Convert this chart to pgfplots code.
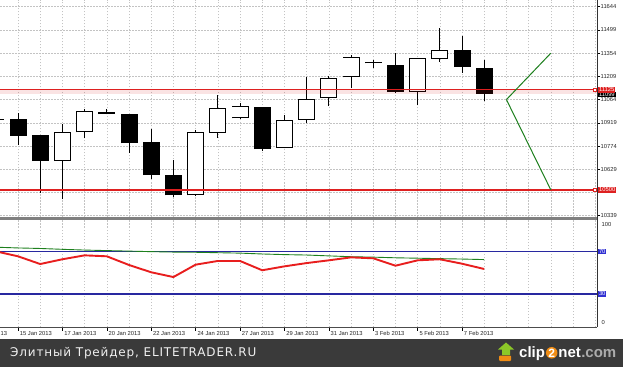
\documentclass[border=0pt]{standalone}
\usepackage{pgfplots}
\pgfplotsset{compat=1.18}
\usepackage{fontspec}
\setmainfont{Liberation Sans}
\newfontfamily\dv{DejaVu Sans}[LetterSpace=7]
\definecolor{mtred}{RGB}{222,32,32}
\definecolor{mtgreen}{RGB}{30,128,30}
\definecolor{mtblue}{RGB}{40,40,160}
\definecolor{boxblue}{RGB}{48,48,210}
\definecolor{band}{RGB}{58,58,58}
\definecolor{gridc}{RGB}{195,195,195}
\definecolor{rsired}{RGB}{232,30,30}
\definecolor{logoorange}{RGB}{240,140,20}
\definecolor{logogreen}{RGB}{140,200,40}
\pgfplotsset{
  wick/.style={black, line width=0.9pt},
  bear/.style={black, line width=17pt},
  bullout/.style={black, line width=17pt},
  bullin/.style={white, line width=15.2pt, shorten <=0.9pt, shorten >=0.9pt},
}
\newcommand{\tickfont}{\fontsize{5.8}{6}\selectfont}
\begin{document}
\begin{tikzpicture}[x=1pt,y=1pt]
\fill[white] (0,0) rectangle (623,367);
\fill[band] (0,0) rectangle (623,28);

% ---------------- price panel ----------------
\begin{axis}[at={(0pt,150.5pt)}, anchor=south west, width=597pt, height=216.5pt, scale only axis,
  xmin=0.189, xmax=27.08, ymin=10334, ymax=11686,
  scaled y ticks=false, scaled x ticks=false,
  axis line style={draw=none},
  xtick={0,...,27}, xticklabels={}, xtick style={draw=none},
  ytick={10339,10484,10629,10774,10919,11064,11209,11354,11499,11644},
  yticklabels={10339,{},10629,10774,10919,11064,11209,11354,11499,11644},
  ytick pos=right, yticklabel pos=right, tick align=outside, major tick length=3pt,
  ytick style={black, line width=0.6pt},
  yticklabel style={font=\tickfont, text=black!85, inner sep=0.5pt},
  grid=major, major grid style={gridc, dash pattern=on 1.5pt off 1.5pt, line width=0.6pt},
  clip=true]
% candle 0 (mostly cut off)
\addplot[bear] coordinates {(0,10934) (0,10940)};
% candle 1
\addplot[wick] coordinates {(1,10780) (1,10978)};
\addplot[bear] coordinates {(1,10839) (1,10941)};
% 2
\addplot[wick] coordinates {(2,10483) (2,10841)};
\addplot[bear] coordinates {(2,10680) (2,10841)};
% 3
\addplot[wick] coordinates {(3,10441) (3,10913)};
\addplot[bullout] coordinates {(3,10680) (3,10863)};
\addplot[bullin] coordinates {(3,10680) (3,10863)};
% 4
\addplot[wick] coordinates {(4,10822) (4,11005)};
\addplot[bullout] coordinates {(4,10860) (4,10991)};
\addplot[bullin] coordinates {(4,10860) (4,10991)};
% 5
\addplot[wick] coordinates {(5,10972) (5,11007)};
\addplot[bear] coordinates {(5,10973) (5,10984)};
% 6
\addplot[wick] coordinates {(6,10732) (6,10976)};
\addplot[bear] coordinates {(6,10791) (6,10974)};
% 7
\addplot[wick] coordinates {(7,10570) (7,10880)};
\addplot[bear] coordinates {(7,10593) (7,10797)};
% 8
\addplot[wick] coordinates {(8,10454) (8,10685)};
\addplot[bear] coordinates {(8,10466) (8,10595)};
% 9
\addplot[wick] coordinates {(9,10462) (9,10874)};
\addplot[bullout] coordinates {(9,10466) (9,10863)};
\addplot[bullin] coordinates {(9,10466) (9,10863)};
% 10
\addplot[wick] coordinates {(10,10826) (10,11093)};
\addplot[bullout] coordinates {(10,10857) (10,11011)};
\addplot[bullin] coordinates {(10,10857) (10,11011)};
% 11
\addplot[wick] coordinates {(11,10945) (11,11045)};
\addplot[bullout] coordinates {(11,10947) (11,11022)};
\addplot[bullin] coordinates {(11,10947) (11,11022)};
% 12
\addplot[wick] coordinates {(12,10745) (12,11018)};
\addplot[bear] coordinates {(12,10755) (12,11016)};
% 13
\addplot[wick] coordinates {(13,10760) (13,10966)};
\addplot[bullout] coordinates {(13,10762) (13,10937)};
\addplot[bullin] coordinates {(13,10762) (13,10937)};
% 14
\addplot[wick] coordinates {(14,10916) (14,11203)};
\addplot[bullout] coordinates {(14,10937) (14,11066)};
\addplot[bullin] coordinates {(14,10937) (14,11066)};
% 15
\addplot[wick] coordinates {(15,11024) (15,11211)};
\addplot[bullout] coordinates {(15,11072) (15,11201)};
\addplot[bullin] coordinates {(15,11072) (15,11201)};
% 16
\addplot[wick] coordinates {(16,11134) (16,11342)};
\addplot[bullout] coordinates {(16,11203) (16,11328)};
\addplot[bullin] coordinates {(16,11203) (16,11328)};
% 17
\addplot[wick] coordinates {(17,11263) (17,11311)};
\addplot[bear] coordinates {(17,11291) (17,11297)};
% 18
\addplot[wick] coordinates {(18,11105) (18,11353)};
\addplot[bear] coordinates {(18,11110) (18,11280)};
% 19
\addplot[wick] coordinates {(19,11028) (19,11326)};
\addplot[bullout] coordinates {(19,11110) (19,11324)};
\addplot[bullin] coordinates {(19,11110) (19,11324)};
% 20
\addplot[wick] coordinates {(20,11299) (20,11513)};
\addplot[bullout] coordinates {(20,11316) (20,11372)};
\addplot[bullin] coordinates {(20,11316) (20,11372)};
% 21
\addplot[wick] coordinates {(21,11232) (21,11463)};
\addplot[bear] coordinates {(21,11267) (21,11375)};
% 22
\addplot[wick] coordinates {(22,11053) (22,11311)};
\addplot[bear] coordinates {(22,11099) (22,11263)};
% highlighted band and levels
\addplot[fill=mtred, fill opacity=0.12, draw=none] coordinates {(0,11122) (28,11122) (28,11097) (0,11097)} -- cycle;
\addplot[mtred, line width=1.2pt] coordinates {(0,11125) (28,11125)};
\addplot[mtred, line width=1.2pt] coordinates {(0,10500) (28,10500)};
% projection lines
\addplot[mtgreen, line width=1pt] coordinates {(23,11064) (25,11354)};
\addplot[mtgreen, line width=1pt] coordinates {(23,11064) (25,10500)};
\coordinate (L1) at (axis cs:27.08,11125);
\coordinate (L2) at (axis cs:27.08,10500);
\coordinate (L3) at (axis cs:27.08,11096);
\end{axis}

% ---------------- oscillator panel ----------------
\begin{axis}[at={(0pt,40pt)}, anchor=south west, width=597pt, height=107pt, scale only axis,
  xmin=0.189, xmax=27.08, ymin=-1.2, ymax=99.9,
  axis line style={draw=none}, ytick=\empty,
  xtick={1,3,...,21},
  xticklabels={15 Jan 2013,17 Jan 2013,20 Jan 2013,22 Jan 2013,24 Jan 2013,27 Jan 2013,29 Jan 2013,31 Jan 2013,3 Feb 2013,5 Feb 2013,7 Feb 2013},
  minor xtick={0,2,...,22,23,24,...,27},
  xtick pos=bottom, tick align=outside, major tick length=3.5pt, minor tick length=0pt,
  xtick style={black, line width=0.6pt},
  xticklabel style={font=\tickfont, text=black!85, anchor=north west, inner sep=0.5pt, xshift=1.2pt},
  grid=both, grid style={gridc, dash pattern=on 1.5pt off 1.5pt, line width=0.6pt},
  clip=true]
\addplot[mtblue, line width=1.3pt] coordinates {(0,70) (28,70)};
\addplot[mtblue, line width=1.3pt] coordinates {(0,30) (28,30)};
\addplot[mtgreen, line width=0.9pt] coordinates {
 (0,74.2) (1,73.5) (2,73.0) (3,72.2) (4,71.5) (5,71.0) (6,70.5) (7,70.0) (8,69.6) (9,69.4) (10,69.0)
 (11,68.6) (12,67.8) (13,67.2) (14,66.8) (15,66.0) (16,65.2) (17,64.8) (18,64.2) (19,63.8) (20,63.4) (21,63.0) (22,62.5)};
\addplot[rsired, line width=1.9pt] coordinates {
 (0,70.3) (1,65.6) (2,58.3) (3,62.8) (4,66.5) (5,65.6) (6,57.4) (7,50.5) (8,46.0) (9,57.7) (10,61.2)
 (11,61.2) (12,52.4) (13,56.1) (14,59.2) (15,61.8) (16,64.6) (17,63.7) (18,56.7) (19,61.8) (20,62.8) (21,58.6) (22,53.6)};
\coordinate (B70) at (axis cs:27.08,70);
\coordinate (B30) at (axis cs:27.08,30);
\end{axis}

% separators and axis lines
\fill[gray] (0,147) rectangle (597,150.3);
\draw[black!80, line width=0.8pt] (597,40) -- (597,367);
\draw[gray!60!black, line width=0.8pt] (0,40) -- (597,40);
\node[font=\tickfont, text=black!85, anchor=north west, inner sep=0.5pt] at (0,36.5) {13};

% level labels
\node[fill=black, text=white, font=\tickfont, inner sep=0.8pt, anchor=west] at ([xshift=1pt]L3) {11099};
\node[fill=mtred, text=white, font=\tickfont, inner sep=0.9pt, anchor=west] at ([xshift=1pt]L1) {11125};
\node[fill=mtred, text=white, font=\tickfont, inner sep=0.9pt, anchor=west] at ([xshift=1pt]L2) {10500};
\draw[mtred, fill=white, line width=0.5pt] ([xshift=-3.5pt,yshift=-1.5pt]L1) rectangle ([xshift=-0.5pt,yshift=1.5pt]L1);
\draw[mtred, fill=white, line width=0.5pt] ([xshift=-3.5pt,yshift=-1.5pt]L2) rectangle ([xshift=-0.5pt,yshift=1.5pt]L2);
\node[fill=boxblue, text=white, font=\tickfont, inner sep=0.8pt, anchor=west] at ([xshift=1pt]B70) {70};
\node[fill=boxblue, text=white, font=\tickfont, inner sep=0.8pt, anchor=west] at ([xshift=1pt]B30) {30};
\node[font=\tickfont, text=black!85, anchor=north west, inner sep=0.5pt] at (601,145) {100};
\node[font=\tickfont, text=black!85, anchor=south west, inner sep=0.5pt] at (601,42) {0};

% footer
\node[anchor=base west, inner sep=0, text=white!88!gray, font=\dv\fontsize{12}{14}\selectfont] at (10,10.3) {Элитный Трейдер, ELITETRADER.RU};
% logo
\fill[logoorange, rounded corners=1pt] (499,6) rectangle (511,11.5);
\fill[logogreen] (502,12) -- (502,17.5) -- (498,17.5) -- (506,24.5) -- (514,17.5) -- (510,17.5) -- (510,12) -- cycle;
\node (c1) [anchor=base west, inner sep=0, text=white, font=\fontsize{15}{15}\selectfont\bfseries] at (519,10) {clip};
\node (c2) [anchor=base west, circle, fill=logoorange, text=white, inner sep=0.3pt, font=\fontsize{12}{12}\selectfont\bfseries] at ([xshift=0.5pt]c1.base east) {2};
\node (c3) [anchor=base west, inner sep=0, text=white, font=\fontsize{15}{15}\selectfont\bfseries] at ([xshift=0.5pt]c2.base east) {net};
\node (c4) [anchor=base west, inner sep=0, text=gray!65, font=\fontsize{15}{15}\selectfont\bfseries] at (c3.base east) {.com};
\pgfresetboundingbox
\useasboundingbox (0,0) rectangle (623,367);
\end{tikzpicture}
\end{document}
